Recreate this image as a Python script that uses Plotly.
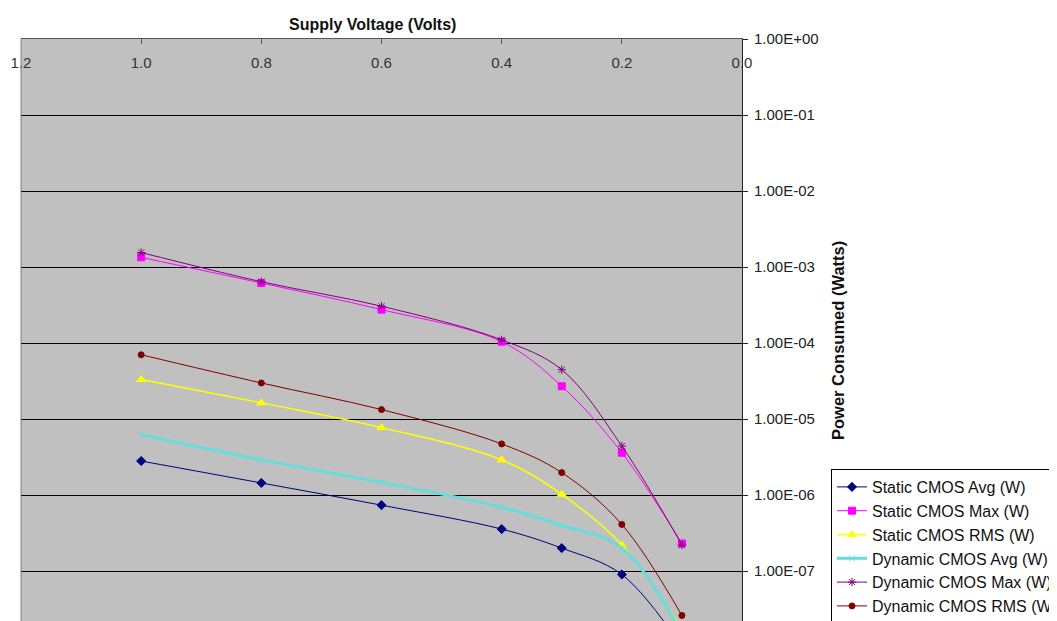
import math
import plotly.graph_objects as go

# ---- data ----
voltage = [1.0, 0.8, 0.6, 0.4, 0.3, 0.2, 0.1]
static_avg = [2.8e-6, 1.44e-6, 7.35e-7, 3.56e-7, 2.0e-7, 9.0e-8, 1.0e-8]
static_max = [1.34e-3, 6.15e-4, 2.75e-4, 1.04e-4, 2.7e-5, 3.6e-6, 2.3e-7]
static_rms = [3.3e-5, 1.63e-5, 7.7e-6, 2.9e-6, 1.02e-6, 2.2e-7, 1.7e-8]
dyn_avg = [6.2e-6, 2.9e-6, 1.47e-6, 6.9e-7, 4.0e-7, 2.0e-7, 1.5e-8]
dyn_max = [1.55e-3, 6.4e-4, 3.05e-4, 1.1e-4, 4.45e-5, 4.4e-6, 2.2e-7]
dyn_rms = [7.0e-5, 2.98e-5, 1.33e-5, 4.7e-6, 1.97e-6, 4.1e-7, 2.6e-8]

series_names = ["Static CMOS Avg (W)", "Static CMOS Max (W)", "Static CMOS RMS (W)",
                "Dynamic CMOS Avg (W)", "Dynamic CMOS Max (W)", "Dynamic CMOS RMS (W)"]

x_tickvals = [1.2, 1.0, 0.8, 0.6, 0.4, 0.2, 0.0]
x_ticktext = ["1.2", "1.0", "0.8", "0.6", "0.4", "0.2", "0.0"]
y_exponents = [0, -1, -2, -3, -4, -5, -6, -7]
y_ticktext = ["1.00E+00", "1.00E-01", "1.00E-02", "1.00E-03",
              "1.00E-04", "1.00E-05", "1.00E-06", "1.00E-07"]

# ---- styles ----
styles = [
    dict(color="#000080", width=1, symbol="diamond", msize=7),
    dict(color="#FF00FF", width=1, symbol="square", msize=7),
    dict(color="#FFFF00", width=1.5, symbol="triangle-up", msize=8),
    dict(color="#66DCDC", width=3, symbol="x-thin-open", msize=6),
    dict(color="#800080", width=1, symbol="asterisk-open", msize=7),
    dict(color="#800000", width=1, symbol="circle", msize=6),
]
series_values = [static_avg, static_max, static_rms, dyn_avg, dyn_max, dyn_rms]

FONT = "Arial, 'Liberation Sans', sans-serif"
OFF = 8  # page body margin
W, H = 1057, 621
ML = 21 - OFF
MT = 39 - OFF
MR = W - (742 - OFF)
PW = W - ML - MR
PH = H - MT
decade = 76.0
y_low = -((H + OFF) - 39) / decade


def px_x(sx):
    return (sx - OFF - ML) / PW


def px_y(sy):
    return ((H + OFF) - sy) / PH


fig = go.Figure()
for name, vals, st in zip(series_names, series_values, styles):
    fig.add_trace(go.Scatter(
        x=voltage, y=vals, name=name, mode="lines+markers",
        legendgroup=name,
        line=dict(color=st["color"], width=st["width"], shape="spline", smoothing=1.0),
        marker=dict(symbol=st["symbol"], size=st["msize"], color=st["color"],
                    line=dict(color=st["color"], width=1)),
    ))

fig.update_layout(
    width=W, height=H,
    margin=dict(l=ML, r=MR, t=MT, b=0, autoexpand=False),
    paper_bgcolor="white", plot_bgcolor="#C0C0C0",
    font=dict(family=FONT, size=13, color="#222"),
    showlegend=True,
    legend=dict(
        x=px_x(831), xanchor="left",
        y=px_y(469), yanchor="top",
        bgcolor="white", bordercolor="black", borderwidth=1,
        font=dict(family=FONT, size=16, color="#111"),
        tracegroupgap=7.5, traceorder="normal",
    ),
    xaxis=dict(
        side="top", range=[1.2, 0.0], tickvals=x_tickvals, ticktext=x_ticktext,
        ticks="inside", ticklen=5, tickcolor="#555",
        ticklabelposition="inside", ticklabeloverflow="allow", ticklabelstandoff=13,
        tickfont=dict(family=FONT, size=15, color="#333"),
        showgrid=False, zeroline=False,
        showline=True, linecolor="#555", linewidth=1,
    ),
    yaxis=dict(
        side="right", type="log", range=[y_low, 0],
        tickvals=[10 ** e for e in y_exponents], ticktext=y_ticktext,
        ticks="outside", ticklen=5, tickcolor="#222", ticklabelstandoff=3,
        tickfont=dict(family=FONT, size=15, color="#222"),
        showgrid=True, gridcolor="black", gridwidth=1,
        zeroline=False, showline=True, linecolor="#222", linewidth=1,
    ),
    annotations=[
        dict(text="<b>Supply Voltage (Volts)</b>", xref="paper", yref="paper",
             x=px_x(372), y=1, yanchor="middle", yshift=15, showarrow=False,
             font=dict(family=FONT, size=16, color="#111")),
        dict(text="<b>Power Consumed (Watts)</b>", xref="paper", yref="paper",
             x=px_x(838), y=px_y(341), textangle=-90, xanchor="center", yanchor="middle",
             showarrow=False, font=dict(family=FONT, size=16.5, color="#111")),
    ],
    shapes=[
        dict(type="line", xref="paper", yref="paper", x0=0, x1=0, y0=0, y1=1,
             line=dict(color="#808080", width=1)),
    ],
)

fig.write_html("out.html")
